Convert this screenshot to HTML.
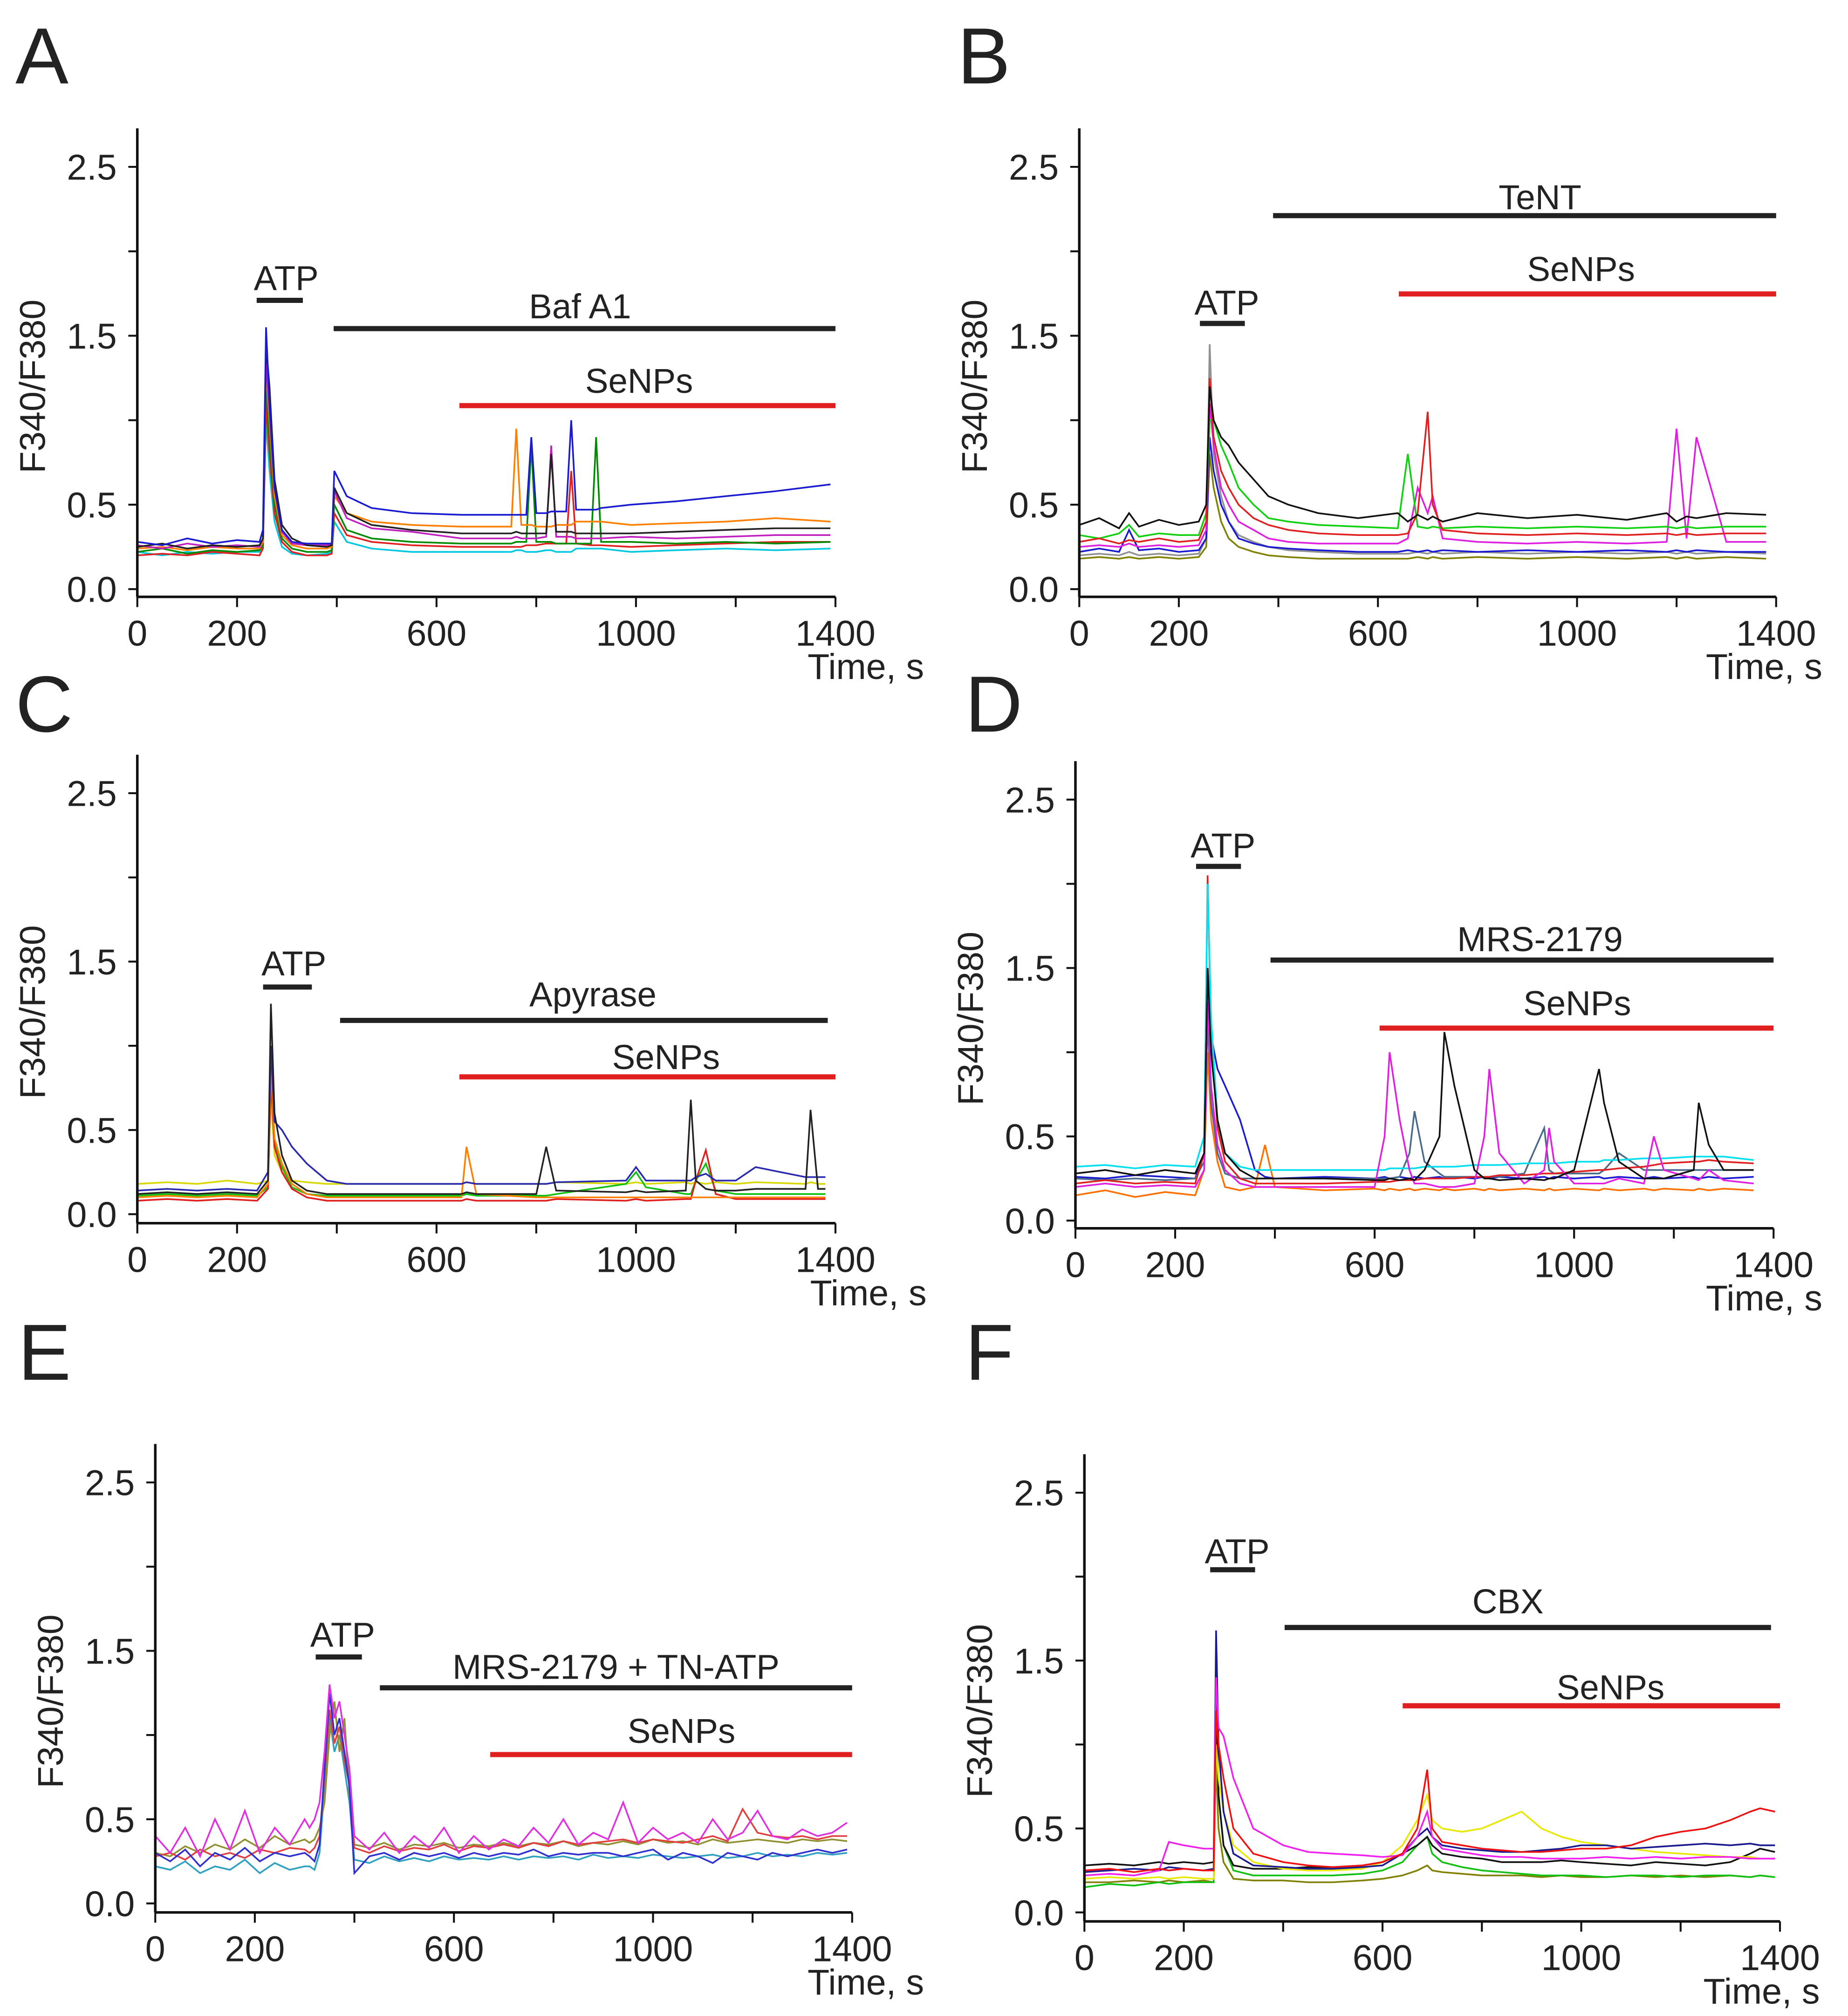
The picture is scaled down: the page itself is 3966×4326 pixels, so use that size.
<!DOCTYPE html>
<html><head><meta charset="utf-8"><style>
html,body{margin:0;padding:0;background:#fff}
svg{display:block}
text{font-family:"Liberation Sans",Arial,sans-serif;fill:#222}
</style></head><body>
<svg id="fig" width="3966" height="4326" viewBox="0 0 1440 1570.7" preserveAspectRatio="none" xmlns="http://www.w3.org/2000/svg"></svg>
<script>
// ---- Panel A data ----
const tA=[0,50,100,150,200,245,252,258,265,275,290,310,340,380,390,395,420,470,550,650,750,760,770,780,790,800,820,830,840,860,870,880,910,920,930,990,1080,1180,1280,1390];
const A_blue=[0.28,0.26,0.30,0.27,0.29,0.28,0.35,1.55,1.1,0.6,0.35,0.28,0.27,0.27,0.27,0.7,0.55,0.48,0.45,0.44,0.44,0.44,0.44,0.44,0.9,0.45,0.45,0.46,0.46,0.46,1.0,0.47,0.47,0.47,0.48,0.5,0.52,0.55,0.58,0.62];
const A_black=[0.25,0.27,0.24,0.26,0.25,0.26,0.3,1.45,1.2,0.65,0.38,0.3,0.26,0.25,0.26,0.6,0.45,0.38,0.35,0.33,0.33,0.34,0.33,0.33,0.33,0.33,0.33,0.8,0.34,0.34,0.34,0.33,0.33,0.33,0.33,0.33,0.34,0.35,0.36,0.36];
const A_orange=[0.24,0.25,0.23,0.25,0.24,0.24,0.28,1.3,1.0,0.55,0.32,0.26,0.24,0.24,0.25,0.55,0.45,0.4,0.38,0.37,0.37,0.95,0.38,0.38,0.38,0.37,0.37,0.37,0.38,0.38,0.38,0.4,0.4,0.4,0.4,0.38,0.39,0.4,0.42,0.4];
const A_green=[0.22,0.24,0.21,0.23,0.22,0.23,0.26,1.2,0.9,0.5,0.3,0.24,0.22,0.22,0.23,0.5,0.35,0.3,0.28,0.27,0.27,0.28,0.28,0.28,0.85,0.28,0.28,0.28,0.27,0.27,0.27,0.27,0.27,0.9,0.28,0.28,0.27,0.28,0.27,0.28];
const A_red=[0.2,0.21,0.2,0.22,0.21,0.2,0.24,1.1,0.8,0.45,0.28,0.22,0.2,0.2,0.21,0.45,0.32,0.28,0.26,0.25,0.25,0.25,0.25,0.26,0.26,0.26,0.27,0.27,0.27,0.27,0.7,0.27,0.26,0.26,0.26,0.25,0.26,0.27,0.28,0.28];
const A_cyan=[0.22,0.2,0.22,0.21,0.22,0.22,0.25,1.0,0.7,0.4,0.25,0.21,0.2,0.21,0.22,0.4,0.28,0.24,0.22,0.22,0.22,0.23,0.23,0.22,0.22,0.22,0.23,0.23,0.22,0.22,0.22,0.24,0.24,0.24,0.24,0.22,0.23,0.24,0.23,0.24];
const A_magenta=[0.26,0.24,0.27,0.25,0.26,0.25,0.3,1.35,1.05,0.6,0.34,0.27,0.26,0.26,0.27,0.58,0.42,0.36,0.34,0.3,0.3,0.31,0.3,0.3,0.3,0.3,0.31,0.85,0.31,0.31,0.31,0.3,0.3,0.3,0.3,0.31,0.3,0.31,0.32,0.32];
// ---- Panel B data ----
const tB=[0,40,80,100,120,160,200,240,255,262,270,285,300,320,350,380,420,480,560,640,660,680,700,710,730,800,900,1000,1100,1180,1200,1220,1240,1300,1380];
const B_black=[0.38,0.42,0.36,0.45,0.37,0.41,0.38,0.4,0.5,1.2,1.0,0.9,0.85,0.75,0.65,0.55,0.5,0.45,0.42,0.45,0.4,0.44,0.41,0.43,0.4,0.45,0.42,0.44,0.41,0.45,0.4,0.43,0.42,0.45,0.44];
const B_red=[0.28,0.3,0.27,0.29,0.28,0.3,0.28,0.29,0.4,1.25,0.9,0.7,0.6,0.5,0.42,0.38,0.35,0.33,0.32,0.32,0.33,0.45,1.05,0.5,0.35,0.33,0.32,0.33,0.32,0.33,0.32,0.33,0.32,0.33,0.33];
const B_green=[0.32,0.3,0.33,0.38,0.31,0.33,0.32,0.32,0.45,1.0,1.0,0.85,0.75,0.6,0.5,0.42,0.4,0.38,0.37,0.36,0.8,0.37,0.36,0.37,0.36,0.37,0.36,0.37,0.36,0.37,0.36,0.37,0.36,0.37,0.37];
const B_magenta=[0.25,0.26,0.25,0.27,0.25,0.26,0.25,0.26,0.35,1.1,0.85,0.6,0.5,0.4,0.35,0.3,0.28,0.27,0.27,0.27,0.3,0.6,0.45,0.55,0.3,0.28,0.27,0.28,0.27,0.28,0.95,0.3,0.9,0.28,0.28];
const B_blue=[0.22,0.24,0.22,0.35,0.23,0.24,0.22,0.23,0.3,0.9,0.7,0.5,0.4,0.3,0.27,0.25,0.24,0.23,0.22,0.22,0.23,0.22,0.23,0.22,0.23,0.22,0.23,0.22,0.23,0.22,0.23,0.22,0.23,0.22,0.22];
const B_gray=[0.2,0.21,0.2,0.22,0.2,0.21,0.2,0.21,0.3,1.45,0.8,0.55,0.4,0.32,0.28,0.25,0.23,0.22,0.21,0.21,0.21,0.22,0.21,0.22,0.21,0.22,0.21,0.22,0.21,0.22,0.21,0.22,0.21,0.22,0.21];
const B_olive=[0.18,0.19,0.18,0.19,0.18,0.19,0.18,0.19,0.25,0.8,0.6,0.4,0.3,0.25,0.22,0.2,0.19,0.18,0.18,0.18,0.18,0.19,0.18,0.19,0.18,0.19,0.18,0.19,0.18,0.19,0.18,0.19,0.18,0.19,0.18];
// ---- Panel C data ----
const tC=[0,60,120,180,240,262,268,275,290,310,340,380,420,500,600,650,660,680,800,820,840,980,1000,1020,1100,1110,1120,1140,1160,1200,1240,1340,1350,1365,1380];
const C_black=[0.12,0.13,0.12,0.13,0.12,0.2,1.25,0.6,0.35,0.2,0.14,0.12,0.12,0.12,0.12,0.12,0.13,0.12,0.12,0.4,0.14,0.13,0.14,0.13,0.14,0.68,0.2,0.15,0.14,0.14,0.15,0.15,0.62,0.15,0.15];
const C_blue=[0.14,0.15,0.14,0.15,0.14,0.25,1.0,0.55,0.5,0.4,0.3,0.2,0.18,0.18,0.18,0.18,0.19,0.18,0.18,0.18,0.19,0.2,0.28,0.2,0.2,0.2,0.22,0.24,0.2,0.2,0.28,0.22,0.22,0.22,0.22];
const C_orange=[0.1,0.11,0.1,0.11,0.1,0.18,0.9,0.45,0.3,0.18,0.12,0.1,0.1,0.1,0.1,0.1,0.4,0.12,0.1,0.1,0.1,0.1,0.1,0.1,0.1,0.1,0.1,0.1,0.1,0.1,0.1,0.1,0.1,0.1,0.1];
const C_red=[0.08,0.09,0.08,0.09,0.08,0.15,0.8,0.4,0.25,0.15,0.1,0.08,0.08,0.08,0.08,0.08,0.09,0.08,0.08,0.08,0.09,0.08,0.09,0.08,0.09,0.09,0.2,0.38,0.12,0.09,0.09,0.09,0.09,0.09,0.09];
const C_green=[0.11,0.12,0.11,0.12,0.11,0.16,0.85,0.42,0.28,0.16,0.12,0.11,0.11,0.11,0.11,0.11,0.12,0.11,0.11,0.11,0.12,0.18,0.25,0.16,0.12,0.12,0.2,0.3,0.14,0.12,0.12,0.12,0.12,0.12,0.12];
const C_yellow=[0.18,0.19,0.18,0.2,0.18,0.2,0.7,0.35,0.25,0.2,0.19,0.18,0.18,0.18,0.18,0.18,0.19,0.18,0.18,0.18,0.19,0.18,0.19,0.18,0.19,0.18,0.19,0.18,0.19,0.18,0.19,0.18,0.19,0.18,0.18];
// ---- Panel D data ----
const tD=[0,60,120,180,240,258,265,272,285,300,330,360,380,400,500,600,620,630,650,670,680,700,730,740,760,800,820,830,850,900,940,950,960,1000,1050,1060,1090,1140,1160,1180,1240,1250,1270,1300,1360];
const D_black=[0.28,0.3,0.27,0.3,0.28,0.4,1.5,1.0,0.6,0.4,0.3,0.25,0.25,0.25,0.25,0.24,0.24,0.25,0.24,0.25,0.24,0.3,0.5,1.12,0.8,0.3,0.25,0.25,0.24,0.25,0.24,0.25,0.25,0.3,0.9,0.7,0.35,0.25,0.25,0.25,0.3,0.7,0.45,0.3,0.3];
const D_magenta=[0.2,0.22,0.2,0.21,0.2,0.3,1.3,0.8,0.45,0.3,0.22,0.2,0.2,0.2,0.2,0.2,0.5,1.0,0.6,0.3,0.22,0.22,0.2,0.2,0.2,0.22,0.5,0.9,0.4,0.22,0.3,0.55,0.35,0.22,0.22,0.22,0.25,0.22,0.5,0.3,0.25,0.24,0.3,0.24,0.22];
const D_slate=[0.25,0.24,0.25,0.24,0.25,0.35,1.2,0.7,0.4,0.28,0.25,0.25,0.25,0.25,0.25,0.25,0.25,0.25,0.26,0.4,0.65,0.35,0.28,0.26,0.26,0.26,0.26,0.26,0.26,0.28,0.55,0.3,0.28,0.28,0.28,0.3,0.4,0.3,0.3,0.3,0.3,0.3,0.3,0.3,0.3];
const D_cyan=[0.32,0.33,0.31,0.33,0.32,0.5,2.0,1.2,0.6,0.4,0.32,0.3,0.3,0.3,0.3,0.3,0.3,0.31,0.31,0.31,0.31,0.32,0.32,0.32,0.32,0.33,0.33,0.33,0.33,0.34,0.34,0.34,0.34,0.35,0.35,0.36,0.36,0.37,0.37,0.37,0.38,0.38,0.38,0.38,0.36];
const D_red=[0.22,0.24,0.22,0.23,0.22,0.4,2.05,1.1,0.55,0.35,0.25,0.22,0.22,0.22,0.22,0.23,0.23,0.23,0.24,0.24,0.24,0.25,0.25,0.25,0.25,0.26,0.26,0.26,0.27,0.27,0.28,0.28,0.28,0.29,0.3,0.3,0.31,0.32,0.33,0.34,0.35,0.35,0.36,0.35,0.34];
const D_blue=[0.26,0.25,0.27,0.26,0.25,0.4,1.5,1.1,0.9,0.8,0.6,0.3,0.26,0.25,0.26,0.25,0.26,0.25,0.26,0.25,0.26,0.25,0.26,0.25,0.26,0.25,0.26,0.25,0.26,0.25,0.26,0.25,0.26,0.25,0.26,0.25,0.26,0.25,0.26,0.25,0.26,0.25,0.26,0.25,0.26];
const D_orange=[0.15,0.18,0.14,0.17,0.15,0.3,1.0,0.6,0.35,0.2,0.18,0.2,0.45,0.2,0.18,0.19,0.18,0.19,0.18,0.19,0.18,0.19,0.18,0.19,0.18,0.19,0.18,0.19,0.18,0.19,0.18,0.19,0.18,0.19,0.18,0.19,0.18,0.19,0.18,0.19,0.18,0.19,0.18,0.19,0.18];
// ---- Panel E data ----
const tE=[0,30,60,90,120,150,180,210,240,270,300,310,320,330,340,350,360,370,380,390,400,430,460,490,520,550,580,610,640,670,700,730,760,790,820,850,880,910,940,970,1000,1030,1060,1090,1120,1150,1180,1210,1240,1270,1300,1330,1360,1390];
const E_magenta=[0.4,0.3,0.45,0.28,0.5,0.32,0.55,0.3,0.45,0.35,0.5,0.45,0.5,0.6,0.9,1.3,1.1,1.2,1.0,0.8,0.4,0.32,0.42,0.3,0.4,0.33,0.45,0.3,0.4,0.32,0.38,0.34,0.45,0.36,0.5,0.35,0.42,0.38,0.6,0.36,0.45,0.38,0.42,0.36,0.5,0.38,0.42,0.55,0.4,0.38,0.44,0.4,0.42,0.48];
const E_blue=[0.3,0.25,0.32,0.22,0.3,0.26,0.33,0.25,0.3,0.28,0.3,0.28,0.25,0.35,0.8,1.25,1.0,1.1,0.9,0.7,0.18,0.28,0.3,0.26,0.3,0.28,0.3,0.27,0.3,0.28,0.3,0.29,0.32,0.28,0.3,0.29,0.3,0.3,0.28,0.3,0.32,0.26,0.3,0.28,0.24,0.3,0.28,0.26,0.3,0.28,0.3,0.32,0.3,0.32];
const E_cyan=[0.22,0.2,0.25,0.18,0.22,0.2,0.26,0.18,0.24,0.2,0.22,0.22,0.2,0.3,0.7,1.1,0.9,1.0,0.8,0.6,0.26,0.24,0.28,0.25,0.27,0.25,0.28,0.26,0.27,0.26,0.28,0.26,0.28,0.27,0.28,0.26,0.29,0.27,0.28,0.27,0.29,0.28,0.27,0.28,0.29,0.27,0.28,0.3,0.28,0.29,0.28,0.3,0.29,0.3];
const E_olive=[0.3,0.28,0.34,0.3,0.35,0.32,0.38,0.33,0.4,0.35,0.38,0.36,0.38,0.45,0.6,1.0,1.2,0.9,1.1,0.65,0.35,0.33,0.36,0.32,0.35,0.34,0.36,0.33,0.35,0.34,0.36,0.34,0.36,0.35,0.37,0.34,0.36,0.35,0.37,0.35,0.38,0.36,0.37,0.35,0.38,0.36,0.37,0.38,0.37,0.36,0.38,0.37,0.38,0.37];
const E_red=[0.28,0.3,0.26,0.32,0.28,0.3,0.27,0.32,0.3,0.33,0.32,0.3,0.33,0.4,0.75,1.15,0.95,1.05,0.85,0.7,0.33,0.3,0.34,0.31,0.33,0.32,0.35,0.31,0.34,0.33,0.35,0.33,0.36,0.34,0.37,0.35,0.36,0.37,0.38,0.36,0.38,0.37,0.36,0.38,0.4,0.37,0.56,0.42,0.4,0.39,0.4,0.38,0.4,0.4];
// ---- Panel F data ----
const tF=[0,50,100,150,170,200,240,260,265,270,280,300,340,400,450,500,560,600,640,670,690,700,720,760,800,840,880,920,960,1000,1050,1100,1150,1200,1250,1300,1340,1360,1390];
const F_red=[0.25,0.26,0.24,0.26,0.25,0.26,0.25,0.25,1.2,1.0,0.8,0.5,0.35,0.3,0.28,0.27,0.28,0.3,0.35,0.5,0.85,0.5,0.42,0.4,0.38,0.37,0.36,0.36,0.37,0.38,0.38,0.4,0.45,0.48,0.5,0.55,0.6,0.62,0.6];
const F_magenta=[0.22,0.23,0.22,0.25,0.42,0.4,0.38,0.38,1.4,1.1,1.05,0.8,0.5,0.4,0.36,0.35,0.34,0.33,0.34,0.45,0.6,0.45,0.38,0.36,0.34,0.33,0.33,0.32,0.32,0.32,0.33,0.32,0.33,0.32,0.33,0.33,0.32,0.32,0.32];
const F_yellow=[0.2,0.21,0.2,0.21,0.2,0.21,0.2,0.2,1.0,0.8,0.6,0.4,0.3,0.26,0.25,0.25,0.26,0.3,0.4,0.55,0.7,0.55,0.5,0.48,0.5,0.55,0.6,0.5,0.45,0.42,0.4,0.38,0.36,0.35,0.34,0.33,0.33,0.32,0.32];
const F_navy=[0.24,0.25,0.26,0.25,0.27,0.26,0.25,0.26,1.68,1.0,0.6,0.35,0.28,0.27,0.26,0.26,0.27,0.28,0.35,0.45,0.5,0.45,0.4,0.38,0.37,0.36,0.36,0.37,0.38,0.4,0.4,0.38,0.39,0.4,0.41,0.4,0.41,0.4,0.4];
const F_green=[0.15,0.17,0.16,0.18,0.17,0.18,0.18,0.18,1.1,0.7,0.4,0.25,0.22,0.22,0.22,0.22,0.23,0.25,0.3,0.4,0.45,0.35,0.3,0.27,0.25,0.24,0.23,0.22,0.22,0.22,0.21,0.22,0.22,0.21,0.22,0.22,0.21,0.22,0.21];
const F_olive=[0.18,0.18,0.19,0.18,0.19,0.18,0.19,0.18,0.9,0.5,0.3,0.2,0.19,0.19,0.18,0.18,0.19,0.2,0.22,0.25,0.28,0.25,0.24,0.23,0.22,0.22,0.22,0.21,0.22,0.21,0.21,0.22,0.21,0.22,0.21,0.22,0.21,0.22,0.21];
const F_black=[0.28,0.29,0.28,0.3,0.29,0.3,0.29,0.3,1.3,0.7,0.4,0.28,0.26,0.26,0.27,0.27,0.28,0.3,0.35,0.4,0.45,0.4,0.35,0.33,0.32,0.3,0.3,0.3,0.31,0.3,0.29,0.28,0.3,0.29,0.28,0.3,0.35,0.38,0.36];
// ---- axis ticks ----
const xTickVals=[0,200,400,600,800,1000,1200,1400];
const xTickLabels=["0","200","","600","","1000","","1400"];
const yTickVals=[0,0.5,1.0,1.5,2.0,2.5];
const yTickLabels=["0.0","0.5","","1.5","","2.5"];

const NS="http://www.w3.org/2000/svg";
const svg=document.getElementById('fig');
function mk(tag,attrs,parent){const e=document.createElementNS(NS,tag);for(const k in attrs)e.setAttribute(k,attrs[k]);(parent||svg).appendChild(e);return e;}

const panels=[
 {id:'a',letter:'A',lx:12,ly:65,x0:107,x1:651,yz:459,top:100,axisY:465,tx:720,
  t:tA,series:[[A_cyan,'#00c8e0'],[A_red,'#e02020'],[A_green,'#008a00'],[A_orange,'#ff8000'],[A_magenta,'#c020c0'],[A_black,'#222'],[A_blue,'#1a1ad0']],
  bars:[[200,236,234,'#222','ATP',223,218],[260,651,256,'#222','Baf A1',452,240],[358,651,316,'#e02020','SeNPs',498,298]]},
 {id:'b',letter:'B',lx:746,ly:65,x0:841,x1:1384,yz:459,top:100,axisY:465,tx:1420,
  t:tB,series:[[B_olive,'#808000'],[B_gray,'#909090'],[B_blue,'#1a1ad0'],[B_magenta,'#e020e0'],[B_green,'#10d010'],[B_red,'#e02020'],[B_black,'#111']],
  bars:[[935,970,252,'#222','ATP',956,237],[992,1384,168,'#222','TeNT',1200,155],[1090,1384,229,'#e02020','SeNPs',1232,211]]},
 {id:'c',letter:'C',lx:12,ly:570,x0:107,x1:651,yz:946,top:588,axisY:953,tx:722,
  t:tC,series:[[C_yellow,'#d8d800'],[C_green,'#10c010'],[C_red,'#e02020'],[C_orange,'#ff8000'],[C_blue,'#2a2ab0'],[C_black,'#222']],
  bars:[[205,243,769,'#222','ATP',229,752],[265,645,795,'#222','Apyrase',462,776],[358,651,839,'#e02020','SeNPs',519,825]]},
 {id:'d',letter:'D',lx:752,ly:570,x0:838,x1:1382,yz:951,top:593,axisY:957,tx:1420,
  t:tD,series:[[D_orange,'#ff7000'],[D_blue,'#1a1ad0'],[D_slate,'#4a6a8a'],[D_red,'#e02020'],[D_cyan,'#00e0f0'],[D_magenta,'#e020e0'],[D_black,'#111']],
  bars:[[932,967,675,'#222','ATP',953,660],[990,1382,748,'#222','MRS-2179',1200,733],[1075,1382,801,'#e02020','SeNPs',1229,783]]},
 {id:'e',letter:'E',lx:14,ly:1075,x0:121,x1:664,yz:1483,top:1125,axisY:1490,tx:720,
  t:tE,series:[[E_cyan,'#30a0c0'],[E_olive,'#909030'],[E_red,'#e04040'],[E_blue,'#3030d0'],[E_magenta,'#e030e0']],
  bars:[[246,282,1291,'#222','ATP',267,1275],[296,664,1315,'#222','MRS-2179 + TN-ATP',480,1300],[382,664,1367,'#e02020','SeNPs',531,1350]]},
 {id:'f',letter:'F',lx:752,ly:1075,x0:845,x1:1387,yz:1490,top:1133,axisY:1497,tx:1418,
  t:tF,series:[[F_olive,'#808000'],[F_green,'#10c010'],[F_black,'#111'],[F_yellow,'#e8e800'],[F_navy,'#1a1a90'],[F_magenta,'#f020f0'],[F_red,'#f01010']],
  bars:[[943,978,1223,'#222','ATP',964,1210],[1001,1380,1268,'#222','CBX',1175,1249],[1093,1387,1329,'#e02020','SeNPs',1255,1316]]}
];

panels.forEach(p=>{
  const unit=(p.yz-(p.top+30))/2.5;
  const sx=v=>p.x0+(p.x1-p.x0)*v/1400;
  const sy=v=>p.yz-unit*v;
  const g=mk('g',{});
  
  
  const L=mk('text',{x:p.lx,y:p.ly,'font-size':62},g);L.textContent=p.letter;
  
  
  p.series.forEach((s,i)=>{
    const pts=p.t.map((t,j)=>sx(t).toFixed(1)+','+sy(s[0][j]).toFixed(1)).join(' ');
    const pl=mk('polyline',{points:pts,fill:'none',stroke:s[1],'stroke-width':1.3},g);
    
    
  });
  const ya=mk('line',{x1:p.x0,y1:p.top,x2:p.x0,y2:p.axisY,stroke:'#111','stroke-width':2},g);
  
  
  const xa=mk('line',{x1:p.x0,y1:p.axisY,x2:p.x1,y2:p.axisY,stroke:'#111','stroke-width':2},g);
  
  
  yTickVals.forEach((v,i)=>{
    mk('line',{x1:p.x0-7,y1:sy(v),x2:p.x0,y2:sy(v),stroke:'#111','stroke-width':1.5},g);
    if(yTickLabels[i]){const t=mk('text',{x:p.x0-16,y:sy(v)+10,'font-size':28,'text-anchor':'end'},g);t.textContent=yTickLabels[i];
      
      }
  });
  xTickVals.forEach((v,i)=>{
    mk('line',{x1:sx(v),y1:p.axisY,x2:sx(v),y2:p.axisY+8,stroke:'#111','stroke-width':1.5},g);
    if(xTickLabels[i]){const t=mk('text',{x:sx(v),y:p.axisY+38,'font-size':28,'text-anchor':'middle'},g);t.textContent=xTickLabels[i];
      
      }
  });
  const xt=mk('text',{x:p.tx,y:p.axisY+64,'font-size':28,'text-anchor':'end'},g);xt.textContent='Time, s';
  
  
  const cy=sy(1.2);
  const yt=mk('text',{x:0,y:0,'font-size':28,'text-anchor':'middle',transform:`translate(${p.x0-72},${cy}) rotate(-90)`},g);yt.textContent='F340/F380';
  
  
  p.bars.forEach(b=>{
    const r=mk('line',{x1:b[0],y1:b[2],x2:b[1],y2:b[2],stroke:b[3],'stroke-width':4},g);
    
    
    const t=mk('text',{x:b[5],y:b[6]+8,'font-size':27,'text-anchor':'middle'},g);t.textContent=b[4];
    
    
  });
});
</script>
</body></html>
